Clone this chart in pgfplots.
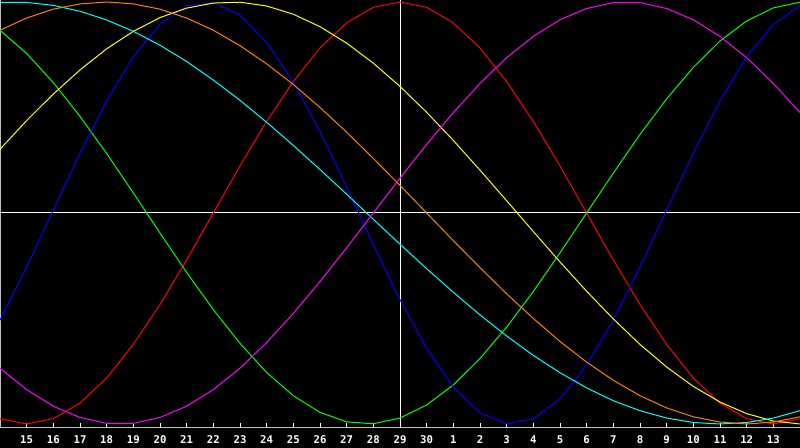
\documentclass[border=0pt]{standalone}
\usepackage{fontspec}
\setmonofont{DejaVu Sans Mono}
\usepackage{pgfplots}
\usepackage{pgfplotstable}
\pgfplotsset{compat=1.18}

\definecolor{axgray}{RGB}{192,192,192}
\definecolor{lred}{RGB}{255,0,0}
\definecolor{lgreen}{RGB}{0,255,0}
\definecolor{lblue}{RGB}{0,0,255}
\definecolor{lyellow}{RGB}{255,255,0}
\definecolor{lcyan}{RGB}{0,255,255}
\definecolor{lorange}{RGB}{255,128,0}
\definecolor{lmagenta}{RGB}{255,0,255}

% day index 0 = 15th ... 15 = 30th, 16 = 1st ... 28 = 13th
\pgfplotstableread{
day red green blue yellow cyan orange magenta
-1 -97.5  86.6 -50.8  30.2  99.8  86.6 -73.6
0 -100.0  75.6 -25.7  43.8  99.8  92.4 -83.7
1  -97.5  61.8   1.4  56.4  98.4  96.6 -91.6
2  -90.1  45.8  28.3  67.8  95.6  99.1 -96.9
3  -78.2  28.2  53.1  77.8  91.5 100.0 -99.7
4  -62.3   9.5  74.0  86.1  86.1  99.1 -99.7
5  -43.4  -9.5  89.4  92.6  79.5  96.6 -96.9
6  -22.3 -28.2  98.2  97.1  71.8  92.4 -91.6
7    0.0 -45.8  99.7  99.5  63.0  86.6 -83.7
8   22.3 -61.8  93.8  99.9  53.4  79.3 -73.6
9   43.4 -75.6  80.9  98.1  43.0  70.7 -61.4
10  62.3 -86.6  62.0  94.2  32.0  60.9 -47.6
11  78.2 -94.5  38.6  88.3  20.6  50.0 -32.5
12  90.1 -99.0  12.3  80.5   8.9  38.3 -16.5
13  97.5 -99.9 -15.0  71.0  -3.0  25.9   0.0
14 100.0 -97.2 -41.1  60.0 -14.8  13.1  16.5
15  97.5 -91.0 -64.1  47.7 -26.4   0.0  32.5
16  90.1 -81.5 -82.5  34.4 -37.6 -13.1  47.6
17  78.2 -69.0 -94.7  20.3 -48.3 -25.9  61.4
18  62.3 -54.1 -99.9   5.8 -58.3 -38.3  73.6
19  43.4 -37.2 -97.6  -8.8 -67.5 -50.0  83.7
20  22.3 -18.9 -88.2 -23.2 -75.7 -60.9  91.6
21   0.0   0.0 -72.1 -37.1 -82.9 -70.7  96.9
22 -22.3  18.9 -50.8 -50.2 -89.0 -79.3  99.7
23 -43.4  37.2 -25.7 -62.3 -93.7 -86.6  99.7
24 -62.3  54.1   1.4 -73.0 -97.2 -92.4  96.9
25 -78.2  69.0  28.3 -82.2 -99.3 -96.6  91.6
26 -90.1  81.5  53.1 -89.6 -100.0 -99.1 83.7
27 -97.5  91.0  74.0 -95.1 -99.3 -100.0 73.6
28 -100.0 97.2  89.4 -98.6 -97.2 -99.1  61.4
29 -97.5  99.9  98.2 -100.0 -93.7 -96.6 47.6
}\biodata

\begin{document}
\begin{tikzpicture}
\fill[black] (0,0) rectangle (600pt,336pt);
\begin{axis}[
    at={(0pt,15pt)}, anchor=south west,
    scale only axis,
    width=600pt, height=321pt,
    xmin=-1, xmax=29,
    ymin=-101.9, ymax=100.95,
    axis lines=left,
    axis line style={-, draw=axgray, line width=0.75pt},
    xtick={0,...,28},
    xticklabels={15,16,17,18,19,20,21,22,23,24,25,26,27,28,29,30,1,2,3,4,5,6,7,8,9,10,11,12,13},
    ytick=\empty,
    tick align=inside,
    major tick length=3.75pt,
    x tick style={white, line width=0.75pt},
    xticklabel style={white, font=\ttfamily\bfseries\fontsize{8}{9}\selectfont, inner sep=0pt, yshift=-5.6pt},
    every axis plot/.append style={line width=0.75pt, mark=none},
]
% reference cross
\draw[white, line width=0.75pt] (axis cs:-1,0) -- (axis cs:29,0);
\draw[white, line width=0.75pt] (axis cs:14,-101.9) -- (axis cs:14,100.95);

\addplot[lred] table[x=day, y=red] {\biodata};
\addplot[lgreen] table[x=day, y=green] {\biodata};
\addplot[lblue] table[x=day, y=blue] {\biodata};
\addplot[lyellow] table[x=day, y=yellow] {\biodata};
\addplot[lcyan] table[x=day, y=cyan] {\biodata};
\addplot[lorange] table[x=day, y=orange] {\biodata};
\addplot[lmagenta] table[x=day, y=magenta] {\biodata};

\draw[axgray, line width=0.75pt] (rel axis cs:0,1) -- (rel axis cs:1,1);
\end{axis}
\pgfresetboundingbox
\path (0,0) rectangle (600pt,336pt);
\end{tikzpicture}
\end{document}
